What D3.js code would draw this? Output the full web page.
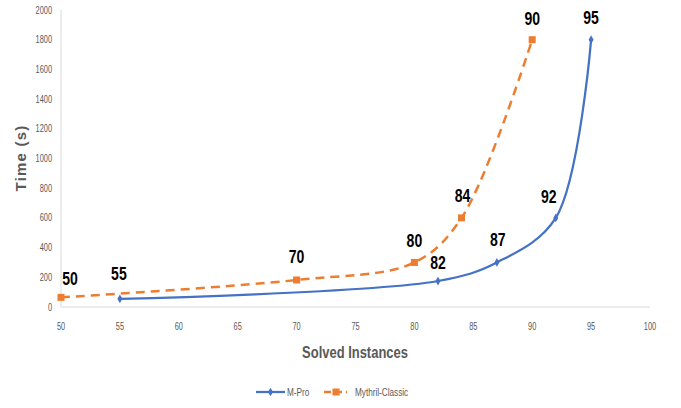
<!DOCTYPE html>
<html><head><meta charset="utf-8">
<script src="https://cdn.jsdelivr.net/npm/d3@7"></script>
<style>
body{margin:0;background:#fff;}
svg{display:block;}
</style></head>
<body>
<svg id="chart" width="681" height="408"></svg>
<script>
const seriesNames = ["M-Pro", "Mythril-Classic"];
const mproX = [55, 82, 87, 92, 95];
const mproY = [55, 175, 300, 600, 1800];
const mythX = [50, 70, 80, 84, 90];
const mythY = [65, 182, 300, 600, 1800];
const xTicks = [50, 55, 60, 65, 70, 75, 80, 85, 90, 95, 100];
const yTicks = [0, 200, 400, 600, 800, 1000, 1200, 1400, 1600, 1800, 2000];
const xTitle = "Solved Instances";
const yTitle = "Time (s)";

const svg = d3.select("#chart");
const x = d3.scaleLinear().domain([50, 100]).range([61, 650]);
const y = d3.scaleLinear().domain([0, 2000]).range([307, 10]);
const font = "'Liberation Sans',Arial,sans-serif";
const grey = "#595959";

// condensed text helper
function ctext(sel, tx, ty, str, opts) {
  const g = sel.append("g").attr("transform", `translate(${tx},${ty})`);
  g.append("text").attr("transform", `scale(${opts.sx},1)`)
    .attr("text-anchor", opts.anchor || "middle").attr("dy", "0.35em")
    .attr("font-family", font).attr("font-size", opts.size)
    .attr("font-weight", opts.weight || "normal").attr("fill", opts.fill || grey)
    .text(str);
  return g;
}

// axes lines
svg.append("line").attr("x1", x(50)).attr("x2", x(100)).attr("y1", y(0)).attr("y2", y(0))
  .attr("stroke", "#d9d9d9").attr("stroke-width", 1);
svg.append("line").attr("x1", x(50)).attr("x2", x(50)).attr("y1", y(0)).attr("y2", y(2000))
  .attr("stroke", "#d9d9d9").attr("stroke-width", 1);

// tick labels
const yg = svg.append("g");
yTicks.forEach(t => ctext(yg, 52, y(t), t, {sx: 0.74, size: 10, anchor: "end"}));
const xg = svg.append("g");
xTicks.forEach(t => ctext(xg, x(t), 326, t, {sx: 0.74, size: 10}));

// titles
ctext(svg, 355, 352, xTitle, {sx: 0.81, size: 16, weight: "bold"});
svg.append("text").attr("transform", "translate(21,158) rotate(-90)").attr("dy", "0.35em")
  .attr("text-anchor", "middle").attr("font-family", font).attr("font-size", 15)
  .attr("font-weight", "bold").attr("letter-spacing", "1.2").attr("fill", grey).text(yTitle);

const line = d3.line().x(d => x(d[0])).y(d => y(d[1])).curve(d3.curveCatmullRom.alpha(0.5));
const mpro = mproX.map((v, i) => [v, mproY[i]]);
const myth = mythX.map((v, i) => [v, mythY[i]]);
const blue = "#4472C4", orange = "#ED7D31";

svg.append("path").datum(myth).attr("d", line).attr("fill", "none")
  .attr("stroke", orange).attr("stroke-width", 2.5).attr("stroke-dasharray", "9,6");
svg.append("path").datum(mpro).attr("d", line).attr("fill", "none")
  .attr("stroke", blue).attr("stroke-width", 2.25);

const diamond = d3.symbol().type(d3.symbolDiamond).size(22);
svg.append("g").selectAll("path").data(mpro).join("path")
  .attr("d", diamond).attr("transform", d => `translate(${x(d[0])},${y(d[1])})`).attr("fill", blue);
svg.append("g").selectAll("rect").data(myth).join("rect")
  .attr("x", d => x(d[0]) - 3.5).attr("y", d => y(d[1]) - 3.5).attr("width", 7).attr("height", 7).attr("fill", orange);

// data labels
const mythLabelDx = [9, 0, 0, 1, 0], mythLabelDy = [-19, -23, -22, -22, -21];
const mproLabelDx = [-1, 0, 1, -7, 0], mproLabelDy = [-25, -18, -23, -21, -22];
const lblg = svg.append("g");
myth.forEach((d, i) => ctext(lblg, x(d[0]) + mythLabelDx[i], y(d[1]) + mythLabelDy[i], d[0],
  {sx: 0.78, size: 18, weight: "bold", fill: "#000"}));
mpro.forEach((d, i) => ctext(lblg, x(d[0]) + mproLabelDx[i], y(d[1]) + mproLabelDy[i], d[0],
  {sx: 0.78, size: 18, weight: "bold", fill: "#000"}));

// legend
const lg = svg.append("g").attr("transform", "translate(0,392)");
lg.append("line").attr("x1", 256).attr("x2", 285).attr("stroke", blue).attr("stroke-width", 2.25);
lg.append("path").attr("d", diamond).attr("transform", "translate(270.5,0)").attr("fill", blue);
ctext(lg, 287, 0, seriesNames[0], {sx: 0.78, size: 10.5, anchor: "start"});
lg.append("line").attr("x1", 324).attr("x2", 347).attr("stroke", orange).attr("stroke-width", 2.5).attr("stroke-dasharray", "7,4");
lg.append("rect").attr("x", 332.5).attr("y", -3.5).attr("width", 7).attr("height", 7).attr("fill", orange);
ctext(lg, 355, 0, seriesNames[1], {sx: 0.78, size: 10.5, anchor: "start"});
</script>
</body></html>
